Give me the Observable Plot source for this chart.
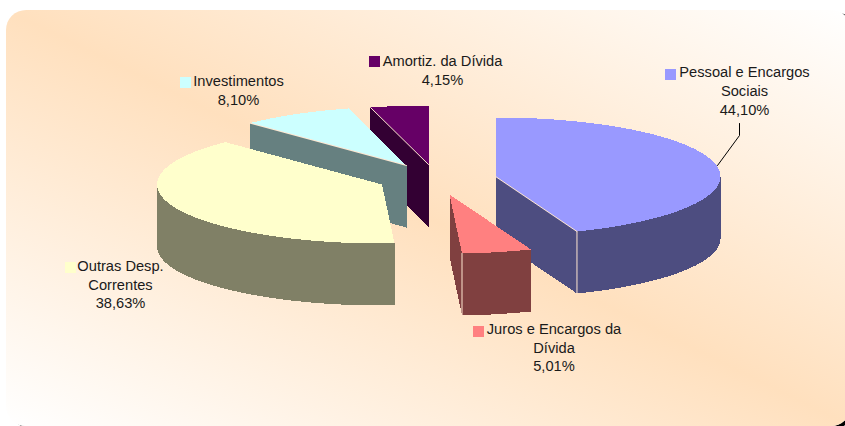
<!DOCTYPE html>
<html><head><meta charset="utf-8">
<script src="https://cdn.jsdelivr.net/npm/d3@7"></script>
<script src="https://cdn.jsdelivr.net/npm/@observablehq/plot@0.6"></script>
<style>
html,body{margin:0;padding:0;background:#fff;overflow:hidden}
#stage{position:relative;width:845px;height:426px;overflow:hidden}
#panel{position:absolute;left:6px;top:10px;width:845px;height:415.7px;border-radius:20px;box-shadow:4px 2px 0 #000;
background:linear-gradient(to top right,#FFFFFF 0%,#FFE0BE 50%,#FFFFFF 100%)}
#chart{position:absolute;left:0;top:0}
#chart svg{background:transparent}
</style></head><body>
<div id="stage"><div id="panel"></div><div id="chart"></div></div>
<script>
const categories = ["Pessoal e Encargos\nSociais","Juros e Encargos da\nDívida","Outras Desp.\nCorrentes","Investimentos","Amortiz. da Dívida"];
const shares = [44.10,5.01,38.63,8.10,4.15];
const topColors = ["#9999FF","#FF8080","#FFFFCC","#CCFFFF","#660066"];
const wallColors = ["#4D4D80","#804040","#808066","#668080","#330033"];

// layout of the exploded pie
const rx = 225, ry = 59, depth = 62;
const apexX = [495,449,381.5,406,428];
const apexY = [176,194,184,165,164];
const labelX = [744,553.5,120,238,442];
const labelY = [89.5,346,283,89,69];
const keyX = [670,478,70,185,374];
const keyY = [74,331,267,82,61];
const drawOrder = [4,3,2,0,1];

const total = d3.sum(shares);
let acc = 0;
const slices = shares.map((s,i)=>{const a0=acc/total*2*Math.PI; acc+=s; const a1=acc/total*2*Math.PI; return {i,a0,a1};});
const pt=(i,a,dz=0)=>[apexX[i]+rx*Math.sin(a), apexY[i]-ry*Math.cos(a)+dz];
const arc=(i,a0,a1,dz=0)=>{const n=Math.max(2,Math.ceil((a1-a0)*40));return d3.range(n+1).map(k=>pt(i,a0+(a1-a0)*k/n,dz));};

const polys=[];
const add=(id,color,pts)=>pts.forEach(([x,y])=>polys.push({id,color,x,y}));
for(const oi of drawOrder){
  const {i,a0,a1}=slices[oi];
  const A=[apexX[i],apexY[i]];
  const down=(p)=>[p[0],p[1]+depth];
  for(const a of [a0,a1]){
    const p=pt(i,a);
    add(`f${i}${a}`,wallColors[i],[A,p,down(p),down(A)]);
  }
  const w0=Math.max(a0,Math.PI/2), w1=Math.min(a1,3*Math.PI/2);
  if(w1>w0){
    const up=arc(i,w0,w1);
    add(`w${i}`,wallColors[i],[...up,...up.slice().reverse().map(down)]);
  }
  add(`t${i}`,topColors[i],[A,...arc(i,a0,a1)]);
}

// thin light edges seen where faces meet
const edges=[];
const addEdge=(id,a,b)=>{edges.push({id,x:a[0],y:a[1]},{id,x:b[0],y:b[1]});};
{
  const e0=pt(0,slices[0].a1);
  addEdge("e0a",[apexX[0],apexY[0]],e0);
  addEdge("e0b",e0,[e0[0],e0[1]+depth]);
  const e1=pt(1,slices[1].a1);
  addEdge("e1",e1,[e1[0],e1[1]+depth]);
  addEdge("e3",[apexX[3],apexY[3]],pt(3,slices[3].a0));
  addEdge("e4",[apexX[4],apexY[4]],pt(4,slices[4].a0));
}

const labels=categories.map((c,i)=>({
  text:c+"\n"+shares[i].toFixed(2).replace(".",",")+"%",
  x:labelX[i],y:labelY[i],kx:keyX[i],ky:keyY[i],color:topColors[i]}));

const leaderX=[717,739,739], leaderY=[165,135,123];
const leader=leaderX.map((x,i)=>({x,y:leaderY[i]}));

const chart=Plot.plot({
  width:845,height:426,margin:0,
  style:{background:"transparent",overflow:"visible"},
  x:{domain:[0,845],range:[0,845],axis:null},
  y:{domain:[0,426],range:[0,426],axis:null},
  marks:[
    Plot.line(polys,{x:"x",y:"y",z:"id",fill:"color",stroke:"none",curve:"linear-closed",shapeRendering:"crispEdges"}),
    Plot.line(edges,{x:"x",y:"y",z:"id",stroke:"#FFE6D0",strokeWidth:1}),
    Plot.line(leader,{x:"x",y:"y",stroke:"#000",strokeWidth:1}),
    Plot.dot(labels,{x:"kx",y:"ky",fill:"color",stroke:"none",symbol:"square",r:5.7,shapeRendering:"crispEdges"}),
    Plot.text(labels,{x:"x",y:"y",text:"text",fontFamily:"Liberation Sans",fontSize:14.67,lineHeight:1.29,fill:"#1a1a1a",textAnchor:"middle",lineAnchor:"middle"})
  ]
});
document.getElementById("chart").append(chart);
</script></body></html>
